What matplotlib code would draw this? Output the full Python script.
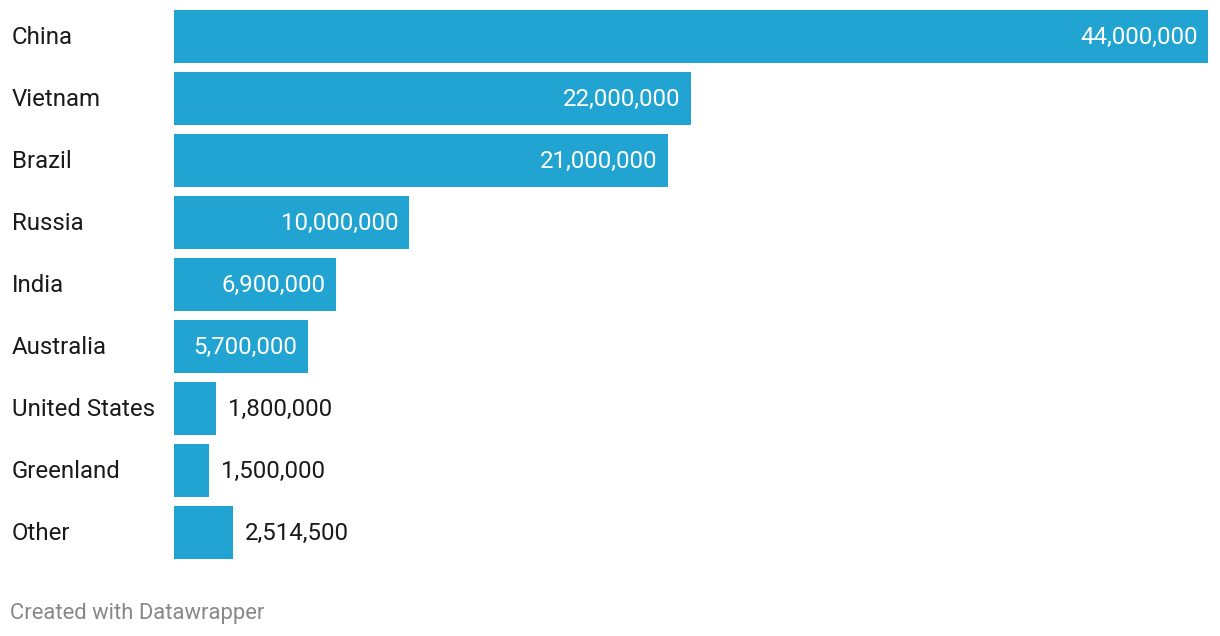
import matplotlib
matplotlib.use("Agg")
import matplotlib.pyplot as plt
from matplotlib.transforms import blended_transform_factory, offset_copy

countries = ["China", "Vietnam", "Brazil", "Russia", "India", "Australia",
             "United States", "Greenland", "Other"]
values = [44000000, 22000000, 21000000, 10000000, 6900000, 5700000,
          1800000, 1500000, 2514500]
label_inside = [True, True, True, True, True, True, False, False, False]

plt.rcParams['font.family'] = ['Roboto', 'DejaVu Sans']

W, H = 1220, 636
fig = plt.figure(figsize=(W / 100, H / 100), dpi=100)
bar_h = 53 / 62
left_px, right_px, top_px, bot_px = 174, 1208, 10, 559
ax = fig.add_axes([left_px / W, 1 - bot_px / H, (right_px - left_px) / W, (bot_px - top_px) / H])

y = list(range(len(countries)))
ax.barh(y, values, height=bar_h, color="#21a4d1", linewidth=0)
ax.set_xlim(0, max(values))
ax.set_ylim(len(countries) - 1 + bar_h / 2, -bar_h / 2)
ax.axis("off")

FS = 17.3
trans_lab = offset_copy(blended_transform_factory(fig.transFigure, ax.transData),
                        fig=fig, x=0, y=-1.5, units="dots")
for yi, name, v, inside in zip(y, countries, values, label_inside):
    ax.text(12 / W, yi, name, transform=trans_lab, ha="left", va="center",
            fontsize=FS, color="#1a1a1a")
    txt = f"{v:,}"
    if inside:
        ax.annotate(txt, (v, yi), xytext=(-7.5, -1), textcoords="offset points",
                    ha="right", va="center", fontsize=FS, color="white")
    else:
        ax.annotate(txt, (v, yi), xytext=(8.5, -1), textcoords="offset points",
                    ha="left", va="center", fontsize=FS, color="#1a1a1a")

fig.text(10 / W, 1 - 614 / H, "Created with Datawrapper", ha="left", va="center",
         fontsize=15.8, color="#888888")

fig.savefig("out.png", dpi=100, facecolor="white")
